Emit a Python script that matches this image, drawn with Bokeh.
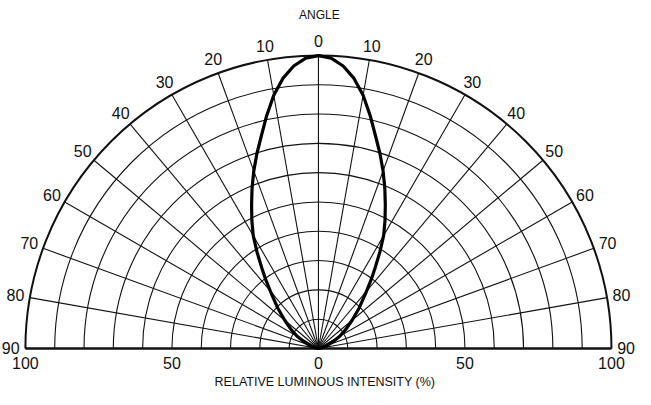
import numpy as np
from bokeh.plotting import figure
from bokeh.models import Range1d
from bokeh.core.properties import value
from bokeh.embed import file_html
from bokeh.resources import INLINE

# ---- data ----
angles_deg = [0, 2.5, 5, 7.5, 10, 12.5, 15, 17.5, 20, 22.5, 25, 27.5, 30, 32.5, 35,
              37.5, 40, 45, 50, 55, 60, 65, 70, 75, 80, 85, 90]
intensity = [100, 99.2, 96.8, 93, 87.8, 81.5, 75.2, 69.8, 64.5, 59.2, 54, 49.2, 44.5,
             39, 33.8, 29.5, 25.5, 19.8, 15, 11.5, 8.5, 5.5, 3.5, 2, 1, 0.3, 0]

grid_angles = [-90, -80, -70, -60, -50, -40, -30, -20, -10, 0, 10, 20, 30, 40, 50, 60, 70, 80, 90]
angle_labels = ["90", "80", "70", "60", "50", "40", "30", "20", "10", "0",
                "10", "20", "30", "40", "50", "60", "70", "80", "90"]
circle_levels = [10, 20, 30, 40, 50, 60, 70, 80, 90]
outer_level = 100
x_ticks = [-100, -50, 0, 50, 100]
x_tick_labels = ["100", "50", "0", "50", "100"]
x_title = "RELATIVE LUMINOUS INTENSITY (%)"
top_title = "ANGLE"

FONT = value("Liberation Sans")
INK = "#111111"

p = figure(width=635, height=389, output_backend="svg", toolbar_location=None,
           x_range=Range1d(-108.5, 108.2), y_range=Range1d(-14.0, 118.8),
           min_border=0, outline_line_color=None)
p.axis.visible = False
p.grid.visible = False
p.background_fill_color = "white"
p.border_fill_color = "white"

# concentric circles
p.arc(x=0, y=0, radius=circle_levels, start_angle=0, end_angle=np.pi,
      line_color=INK, line_width=1.1)
p.arc(x=0, y=0, radius=outer_level, start_angle=0, end_angle=np.pi,
      line_color=INK, line_width=2)

# radial lines
ga = np.radians(grid_angles)
p.segment(x0=0, y0=0, x1=outer_level * np.sin(ga), y1=outer_level * np.cos(ga),
          line_color=INK, line_width=1.1)

# baseline
p.segment(x0=[-outer_level], y0=[0], x1=[outer_level], y1=[0], line_color=INK, line_width=2.4)

# curve (symmetric)
th = np.radians(np.array(angles_deg))
I = np.array(intensity)
xs = np.concatenate([-(I * np.sin(th))[::-1], (I * np.sin(th))[1:]])
ys = np.concatenate([(I * np.cos(th))[::-1], (I * np.cos(th))[1:]])
p.line(xs, ys, line_color="black", line_width=3.2, line_join="round")

# angle labels
lr = 105.0
p.text(x=lr * np.sin(ga), y=lr * np.cos(ga), text=angle_labels,
       text_font=FONT, text_font_size="16px", text_align="center",
       text_baseline="middle", text_color=INK)

# bottom tick labels
p.text(x=x_ticks, y=[-4.9] * len(x_ticks), text=x_tick_labels,
       text_font=FONT, text_font_size="16px", text_align="center",
       text_baseline="middle", text_color=INK)

# titles
p.text(x=[2.2], y=[-11.6], text=[x_title], text_font=FONT, text_font_size="12.5px",
       text_align="center", text_baseline="middle", text_color=INK)
p.text(x=[0.3], y=[113.9], text=[top_title], text_font=FONT, text_font_size="12px",
       text_align="center", text_baseline="middle", text_color=INK)

open("out.html", "w").write(file_html(p, INLINE))
